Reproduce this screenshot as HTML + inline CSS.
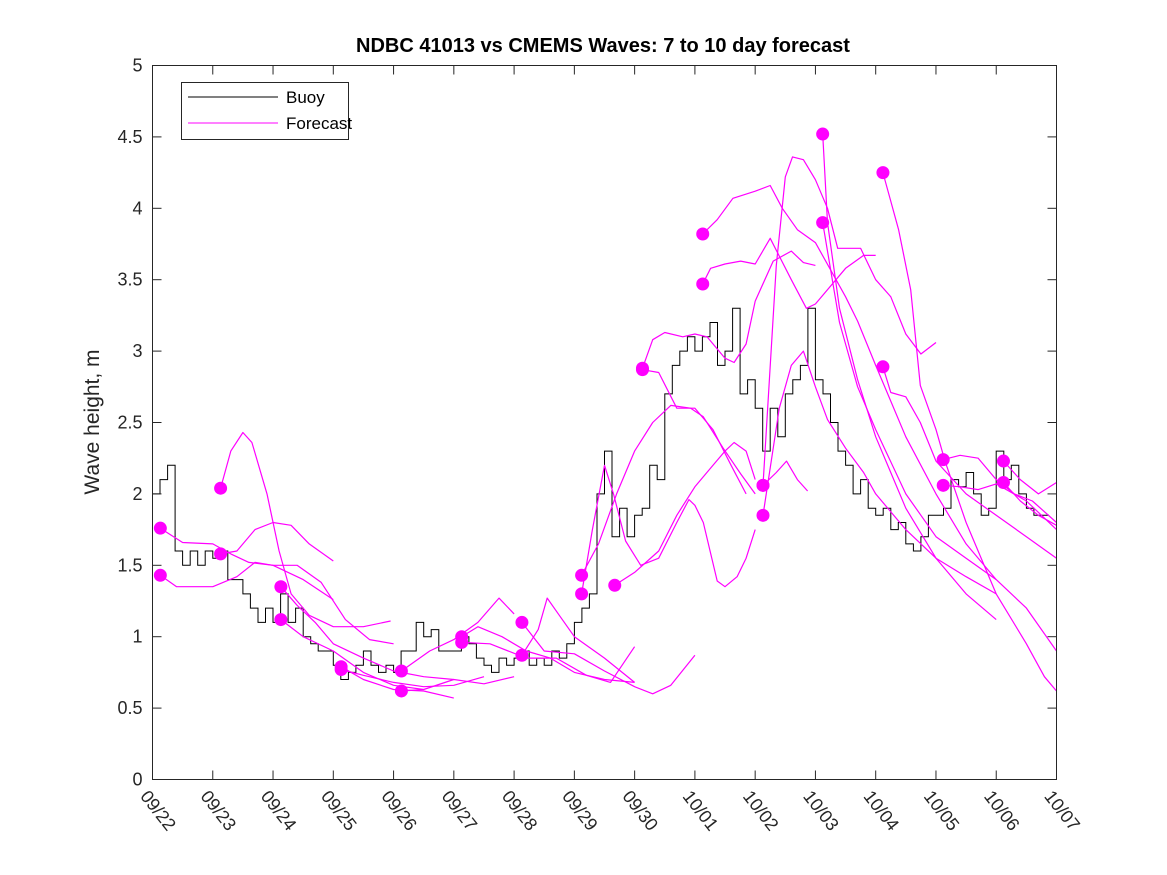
<!DOCTYPE html>
<html><head><meta charset="utf-8"><style>
html,body{margin:0;padding:0;background:#fff;}
svg{display:block;font-family:"Liberation Sans","DejaVu Sans",sans-serif;}
</style></head><body>
<svg id="chart" width="1167" height="875" viewBox="0 0 1167 875" xmlns="http://www.w3.org/2000/svg">
<rect x="0" y="0" width="1167" height="875" fill="#fff"/>
<text x="603" y="52" text-anchor="middle" font-size="20" font-weight="bold" fill="#000">NDBC 41013 vs CMEMS Waves: 7 to 10 day forecast</text>
<text transform="translate(99,422) rotate(-90)" text-anchor="middle" font-size="21" fill="#262626">Wave height, m</text>
<g id="grid"></g>
<g id="buoy"></g>
<g id="fc"></g>
<rect x="152.5" y="65.5" width="904" height="714" fill="none" stroke="#262626" stroke-width="1"/>
<g id="ticks"></g>
<g>
<rect x="181.5" y="82.5" width="167" height="57" fill="#fff" stroke="#262626" stroke-width="1"/>
<line x1="188" y1="97" x2="278" y2="97" stroke="#000" stroke-width="1"/>
<text x="286" y="103" font-size="17" fill="#000">Buoy</text>
<line x1="188" y1="123" x2="278" y2="123" stroke="#ff00ff" stroke-width="1"/>
<text x="286" y="129" font-size="17" fill="#000">Forecast</text>
</g>
</svg>
<script>
const xTickLabels=["09/22","09/23","09/24","09/25","09/26","09/27","09/28","09/29","09/30","10/01","10/02","10/03","10/04","10/05","10/06","10/07"];
const yTicks=[0,0.5,1,1.5,2,2.5,3,3.5,4,4.5,5];
const yTickLabels=["0","0.5","1","1.5","2","2.5","3","3.5","4","4.5","5"];
const buoyStep=0.125;
const buoyValues=[
2.0,2.1,2.2,1.6,1.5,1.6,1.5,1.6,
1.55,1.6,1.4,1.4,1.3,1.2,1.1,1.2,
1.1,1.3,1.1,1.2,1.0,0.95,0.9,0.9,
0.8,0.7,0.75,0.8,0.9,0.8,0.75,0.8,
0.75,0.9,0.9,1.1,1.0,1.05,0.9,0.9,
0.9,1.0,0.95,0.85,0.8,0.75,0.85,0.8,
0.85,0.9,0.8,0.85,0.8,0.9,0.85,0.95,
1.1,1.2,1.3,2.0,2.3,1.7,1.9,1.7,
1.85,1.9,2.2,2.1,2.7,2.9,3.0,3.1,
3.0,3.1,3.2,2.9,3.0,3.3,2.7,2.8,
2.6,2.3,2.6,2.4,2.7,2.8,2.9,3.3,
2.8,2.7,2.5,2.3,2.2,2.0,2.1,1.9,
1.85,1.9,1.75,1.8,1.65,1.6,1.7,1.85,
1.85,1.9,2.1,2.05,2.15,2.0,1.85,1.9,
2.3,2.1,2.2,2.0,1.9,1.85,1.85];
const fc1=[[0.13,1.76],[0.5,1.66],[1.0,1.65],[1.3,1.58],[1.6,1.52],[2.0,1.5],[2.5,1.4],[3.0,1.26]];
const fc2=[[0.13,1.43],[0.4,1.35],[1.0,1.35],[1.4,1.42],[1.7,1.52],[2.0,1.5],[2.4,1.5],[2.8,1.38],[3.2,1.12],[3.6,0.98],[4.0,0.95]];
const fc3=[[1.13,2.04],[1.3,2.3],[1.5,2.43],[1.65,2.36],[1.9,2.0],[2.1,1.6],[2.3,1.3],[2.6,1.15],[3.0,1.07],[3.5,1.07],[3.95,1.11]];
const fc4=[[1.13,1.58],[1.4,1.6],[1.7,1.75],[2.0,1.8],[2.3,1.78],[2.6,1.65],[3.0,1.53]];
const fc5=[[2.13,1.35],[2.4,1.22],[2.7,1.1],[3.0,0.95],[3.5,0.85],[4.0,0.76],[4.5,0.72],[5.0,0.7]];
const fc6=[[2.13,1.12],[2.5,1.0],[3.0,0.9],[3.5,0.75],[4.0,0.66],[4.5,0.63]];
const fc7=[[3.13,0.79],[3.5,0.7],[4.0,0.63],[4.5,0.62],[5.0,0.57]];
const fc8=[[3.13,0.77],[3.5,0.73],[4.0,0.68],[4.5,0.65],[5.0,0.66],[5.5,0.72]];
const fc9=[[4.13,0.76],[4.6,0.9],[5.0,0.98],[5.4,1.1],[5.75,1.27],[6.0,1.16]];
const fc10=[[4.13,0.62],[4.5,0.63],[5.0,0.7],[5.5,0.67],[6.0,0.72]];
const fc11=[[5.13,1.0],[5.4,1.07],[5.8,1.0],[6.2,0.9],[6.6,0.85],[7.0,0.75],[7.5,0.7],[8.0,0.68]];
const fc12=[[5.13,0.96],[5.6,0.95],[6.2,0.85],[6.7,0.85],[7.2,0.73],[7.6,0.68],[8.0,0.93]];
const fc13=[[6.13,1.1],[6.5,0.9],[7.0,0.88],[7.5,0.76],[8.0,0.65],[8.3,0.6],[8.6,0.66],[9.0,0.87]];
const fc14=[[6.13,0.87],[6.4,1.05],[6.55,1.27],[6.75,1.15],[7.0,1.0],[7.5,0.85],[8.0,0.68]];
const fc15=[[7.12,1.43],[7.4,1.65],[7.7,2.0],[8.0,2.3],[8.3,2.5],[8.6,2.62],[8.93,2.6],[9.14,2.54],[9.47,2.32],[9.76,2.14],[10.0,2.0]];
const fc16=[[7.12,1.30],[7.3,1.75],[7.5,2.2],[7.65,2.0],[7.85,1.67],[8.1,1.5],[8.4,1.55],[8.7,1.8],[8.9,1.96],[9.0,1.92],[9.14,1.8],[9.37,1.39],[9.5,1.35],[9.7,1.42],[9.85,1.55],[10.0,1.75]];
const fc17=[[7.67,1.36],[8.0,1.45],[8.4,1.6],[8.7,1.85],[9.0,2.05],[9.3,2.2],[9.5,2.3],[9.65,2.36],[9.85,2.3],[10.0,2.1]];
const fc18=[[8.13,2.88],[8.3,3.08],[8.5,3.13],[8.8,3.1],[9.0,3.12],[9.2,3.1],[9.5,2.95],[9.65,2.92],[9.85,3.05],[10.0,3.35],[10.3,3.63],[10.6,3.7],[10.8,3.62],[11.0,3.6]];
const fc19=[[8.13,2.87],[8.4,2.85],[8.7,2.6],[9.0,2.6],[9.3,2.45],[9.6,2.2],[9.85,2.0]];
const fc20=[[9.13,3.82],[9.37,3.92],[9.63,4.07],[10.0,4.12],[10.25,4.16],[10.45,4.0],[10.7,3.85],[11.0,3.76],[11.5,3.38],[11.7,3.21],[12.0,2.9],[12.5,2.4],[13.0,2.0],[13.5,1.65],[14.0,1.4]];
const fc21=[[9.13,3.47],[9.26,3.58],[9.5,3.61],[9.76,3.63],[10.0,3.61],[10.25,3.79],[10.6,3.5],[10.85,3.3],[11.0,3.33],[11.5,3.58],[11.8,3.67],[12.0,3.67]];
const fc22=[[10.13,2.06],[10.35,3.6],[10.5,4.22],[10.62,4.36],[10.8,4.34],[11.0,4.2],[11.2,4.0],[11.37,3.72],[11.75,3.72],[12.0,3.5],[12.25,3.38],[12.5,3.12],[12.75,2.98],[13.0,3.06]];
const fc23=[[10.13,1.85],[10.4,2.6],[10.6,2.9],[10.8,3.0],[11.0,2.75],[11.2,2.52],[11.5,2.32],[11.8,2.15],[12.0,2.0],[12.5,1.75],[13.0,1.55],[13.5,1.42],[14.0,1.3]];
const fc24=[[10.13,2.06],[10.35,2.15],[10.52,2.23],[10.7,2.1],[10.87,2.02]];
const fc25=[[11.12,4.52],[11.2,3.9],[11.4,3.3],[11.7,2.8],[12.0,2.4],[12.5,1.9],[13.0,1.55],[13.5,1.3],[14.0,1.12]];
const fc26=[[11.12,3.9],[11.4,3.2],[11.7,2.75],[12.0,2.45],[12.5,2.0],[13.0,1.7],[13.5,1.55],[14.0,1.4],[14.5,1.2],[15.0,0.9]];
const fc27=[[12.12,4.25],[12.38,3.85],[12.58,3.43],[12.74,2.76],[13.0,2.45],[13.15,2.23],[13.5,1.8],[14.0,1.3],[14.5,0.95],[14.8,0.72],[15.0,0.62]];
const fc28=[[12.12,2.89],[12.25,2.71],[12.5,2.68],[12.74,2.5],[13.0,2.23],[13.5,2.0],[14.0,1.85],[14.5,1.7],[15.0,1.55]];
const fc29=[[13.12,2.24],[13.4,2.27],[13.7,2.25],[14.0,2.1],[14.3,2.0],[14.6,1.95],[15.0,1.8]];
const fc30=[[13.12,2.06],[13.4,2.05],[13.7,2.03],[14.0,2.07],[14.5,1.95],[15.0,1.75]];
const fc31=[[14.12,2.23],[14.4,2.1],[14.7,2.0],[15.0,2.08]];
const fc32=[[14.12,2.08],[14.4,1.95],[14.7,1.85],[15.0,1.78]];
const forecasts=[fc1,fc2,fc3,fc4,fc5,fc6,fc7,fc8,fc9,fc10,fc11,fc12,fc13,fc14,fc15,fc16,fc17,fc18,fc19,fc20,fc21,fc22,fc23,fc24,fc25,fc26,fc27,fc28,fc29,fc30,fc31,fc32];

const NS="http://www.w3.org/2000/svg";
const X0=152.5,X1=1056.5,Y0=779.5,Y1=65.5;
function xs(d){return X0+(d/15)*(X1-X0);}
function ys(v){return Y0-(v/5)*(Y0-Y1);}
function mk(tag,attrs,parent){const e=document.createElementNS(NS,tag);for(const k in attrs)e.setAttribute(k,attrs[k]);parent.appendChild(e);return e;}

const ticks=document.getElementById('ticks');
xTickLabels.forEach((lab,i)=>{
  const x=xs(i);
  const t1=mk('line',{x1:x,y1:Y0,x2:x,y2:Y0-9,stroke:'#262626'},ticks);
  
  
  const t2=mk('line',{x1:x,y1:Y1,x2:x,y2:Y1+9,stroke:'#262626'},ticks);
  
  
  const tx=mk('text',{x:0,y:0,'font-size':'18',fill:'#262626',transform:`translate(${x-13},${Y0+17}) rotate(52)`},ticks);
  tx.textContent=lab;
  
  
});
yTicks.forEach((v,i)=>{
  const y=ys(v);
  const t1=mk('line',{x1:X0,y1:y,x2:X0+9,y2:y,stroke:'#262626'},ticks);
  
  
  const t2=mk('line',{x1:X1,y1:y,x2:X1-9,y2:y,stroke:'#262626'},ticks);
  
  
  const tx=mk('text',{x:X0-10,y:y+6,'text-anchor':'end','font-size':'18',fill:'#262626'},ticks);
  tx.textContent=yTickLabels[i];
  
  
});

let d='';
buoyValues.forEach((v,i)=>{
  const xa=xs(i*buoyStep),xb=xs((i+1)*buoyStep),y=ys(v);
  d+=(i===0?'M':'L')+xa.toFixed(1)+','+y.toFixed(1)+' L'+xb.toFixed(1)+','+y.toFixed(1)+' ';
});
const bp=mk('path',{d:d,fill:'none',stroke:'#000','stroke-width':'1'},document.getElementById('buoy'));



const fcg=document.getElementById('fc');
forecasts.forEach((f)=>{
  const pd=f.map((p,j)=>(j?'L':'M')+xs(p[0]).toFixed(1)+','+ys(p[1]).toFixed(1)).join(' ');
  const pl=mk('path',{d:pd,fill:'none',stroke:'#ff00ff','stroke-width':'1.2','stroke-linejoin':'round'},fcg);
  
  
});
forecasts.forEach((f)=>{
  const c=mk('circle',{cx:xs(f[0][0]),cy:ys(f[0][1]),r:6.5,fill:'#ff00ff'},fcg);
  
  
});
</script>
</body></html>
